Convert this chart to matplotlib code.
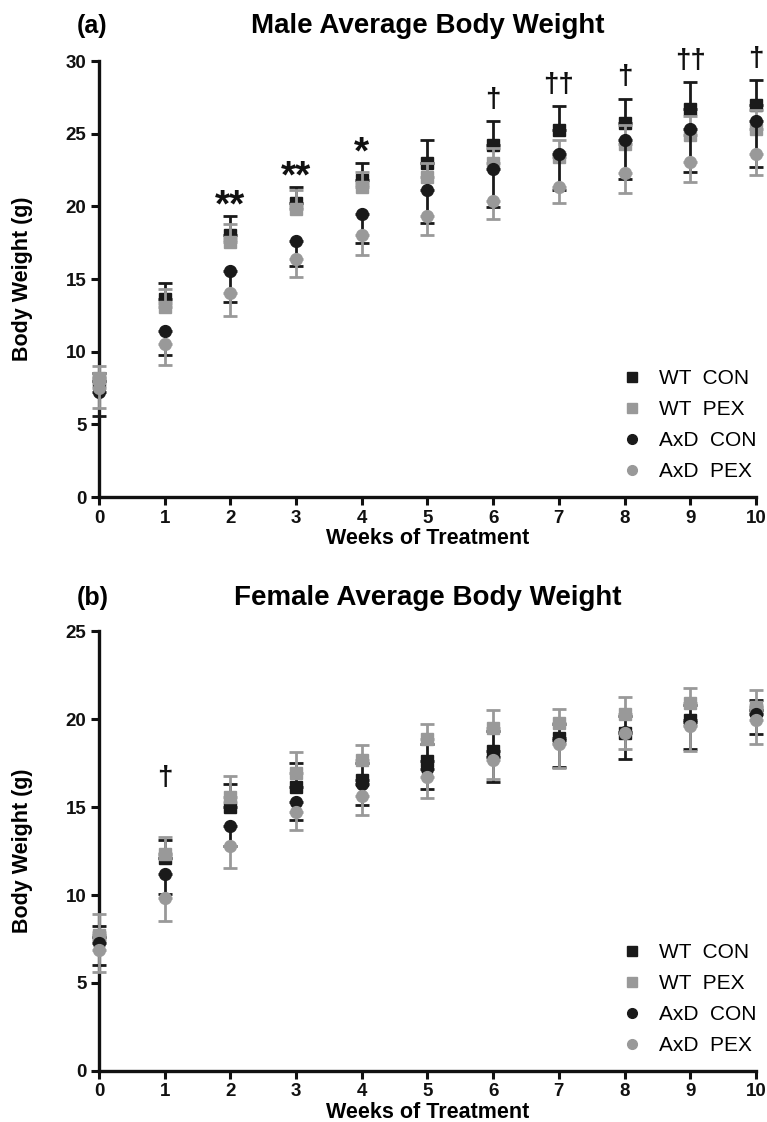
import numpy as np
import matplotlib.pyplot as plt
from matplotlib.lines import Line2D

plt.rcParams['font.family'] = ['Liberation Sans', 'DejaVu Sans']

weeks = np.arange(11)
groups = ['WT  CON', 'WT  PEX', 'AxD  CON', 'AxD  PEX']

# male body weight (g): mean and SEM per week
male_wt_con = [8.0, 13.6, 18.05, 20.2, 21.8, 22.95, 24.25, 25.25, 25.75, 26.7, 26.95]
male_wt_con_sem = [0.55, 1.1, 1.3, 1.15, 1.2, 1.65, 1.6, 1.65, 1.65, 1.85, 1.75]
male_wt_pex = [8.2, 13.1, 17.55, 19.8, 21.35, 22.0, 22.95, 23.4, 24.3, 24.9, 25.35]
male_wt_pex_sem = [0.85, 1.2, 1.25, 1.3, 1.0, 1.0, 1.1, 1.2, 1.3, 1.3, 1.3]
male_axd_con = [7.25, 11.45, 15.55, 17.65, 19.5, 21.15, 22.55, 23.6, 24.55, 25.35, 25.85]
male_axd_con_sem = [1.7, 1.7, 2.15, 1.75, 2.0, 2.3, 2.6, 2.5, 2.7, 3.0, 3.15]
male_axd_pex = [7.5, 10.55, 14.05, 16.4, 18.0, 19.35, 20.35, 21.35, 22.3, 23.05, 23.6]
male_axd_pex_sem = [1.4, 1.45, 1.6, 1.25, 1.35, 1.3, 1.25, 1.15, 1.35, 1.4, 1.45]
male_marks = ['', '', '**', '**', '*', '', '†', '††', '†', '††', '†']

# female body weight (g): mean and SEM per week
female_wt_con = [7.6, 12.1, 15.0, 16.15, 16.55, 17.6, 18.2, 18.95, 19.2, 19.95, 20.5]
female_wt_con_sem = [0.65, 1.0, 1.3, 1.35, 0.95, 1.0, 1.1, 0.75, 1.0, 0.85, 0.6]
female_wt_pex = [7.75, 12.35, 15.55, 16.95, 17.65, 18.85, 19.5, 19.8, 20.3, 20.9, 20.7]
female_wt_pex_sem = [1.15, 0.95, 1.2, 1.2, 0.85, 0.85, 1.0, 0.75, 0.95, 0.85, 0.95]
female_axd_con = [7.25, 11.2, 13.9, 15.3, 16.3, 17.15, 17.85, 18.8, 19.25, 19.85, 20.3]
female_axd_con_sem = [1.25, 1.15, 1.1, 1.05, 1.2, 1.15, 1.4, 1.55, 1.5, 1.55, 1.15]
female_axd_pex = [6.85, 9.85, 12.8, 14.7, 15.6, 16.7, 17.7, 18.6, 19.2, 19.6, 19.95]
female_axd_pex_sem = [1.2, 1.35, 1.25, 1.0, 1.05, 1.2, 1.1, 1.4, 0.9, 1.4, 1.35]
female_marks = ['', '†', '', '', '', '', '', '', '', '', '']

colors = ['#1a1a1a', '#999999', '#1a1a1a', '#999999']
markers = ['s', 's', 'o', 'o']
bar_up = [True, True, False, False]   # WT bars point up, AxD bars point down


def draw_panel(ax, means, sems, marks, ymax, title, tag, title_y, mark_gap):
    tops = np.zeros(len(weeks))
    for i, (m, s) in enumerate(zip(means, sems)):
        m = np.array(m)
        s = np.array(s)
        zero = np.zeros_like(s)
        err = [zero, s] if bar_up[i] else [s, zero]
        ax.errorbar(weeks, m, yerr=err, fmt=markers[i], color=colors[i],
                    ms=8.5, elinewidth=2.0, capsize=5, capthick=2.0,
                    clip_on=False, zorder=3 + i)
        if bar_up[i]:
            tops = np.maximum(tops, m + s)

    for w, txt in zip(weeks, marks):
        if not txt:
            continue
        if '*' in txt:
            size, dy = 28, mark_gap - 12
        else:
            size, dy = 20, mark_gap
        ax.annotate(txt, (w, tops[w]), xytext=(0, dy), textcoords='offset points',
                    ha='center', va='bottom', fontsize=size, fontweight='bold',
                    color='#111111', annotation_clip=False)

    ax.set_xlim(0, 10)
    ax.set_ylim(0, ymax)
    ax.set_xticks(weeks)
    ax.set_yticks(np.arange(0, ymax + 1, 5))
    for side in ['top', 'right']:
        ax.spines[side].set_visible(False)
    for side in ['left', 'bottom']:
        ax.spines[side].set_linewidth(2.4)
        ax.spines[side].set_color('#111111')
    ax.tick_params(width=2.2, length=6, labelsize=13.5, pad=3, colors='#111111')
    for lbl in ax.get_xticklabels() + ax.get_yticklabels():
        lbl.set_fontweight('bold')

    ax.set_xlabel('Weeks of Treatment', fontsize=15.5, fontweight='bold', labelpad=1)
    ax.set_ylabel('Body Weight (g)', fontsize=15.5, fontweight='bold')
    ax.yaxis.set_label_coords(-0.1, 0.5)

    handles = [Line2D([], [], marker=markers[i], ls='none', color=colors[i], ms=7)
               for i in range(4)]
    ax.legend(handles, groups, loc='lower right', bbox_to_anchor=(1.024, 0.0),
              frameon=False, fontsize=15, handlelength=1.0, handletextpad=0.8,
              labelspacing=0.58, borderpad=0.25)

    pos = ax.get_position()
    fig.text((pos.x0 + pos.x1) / 2, title_y, title, ha='center', va='baseline',
             fontsize=20, fontweight='bold')
    fig.text(0.1, title_y, tag, ha='left', va='baseline',
             fontsize=18, fontweight='bold')


fig = plt.figure(figsize=(7.67, 11.22), dpi=100)
ax1 = fig.add_axes([0.129, 0.557, 0.8566, 0.3886])
ax2 = fig.add_axes([0.129, 0.0455, 0.8566, 0.392])

draw_panel(ax1,
           [male_wt_con, male_wt_pex, male_axd_con, male_axd_pex],
           [male_wt_con_sem, male_wt_pex_sem, male_axd_con_sem, male_axd_pex_sem],
           male_marks, 30, 'Male Average Body Weight', '(a)', 0.9706, 6)
draw_panel(ax2,
           [female_wt_con, female_wt_pex, female_axd_con, female_axd_pex],
           [female_wt_con_sem, female_wt_pex_sem, female_axd_con_sem, female_axd_pex_sem],
           female_marks, 25, 'Female Average Body Weight', '(b)', 0.4608, 33)

fig.savefig('out.png', dpi=100)
